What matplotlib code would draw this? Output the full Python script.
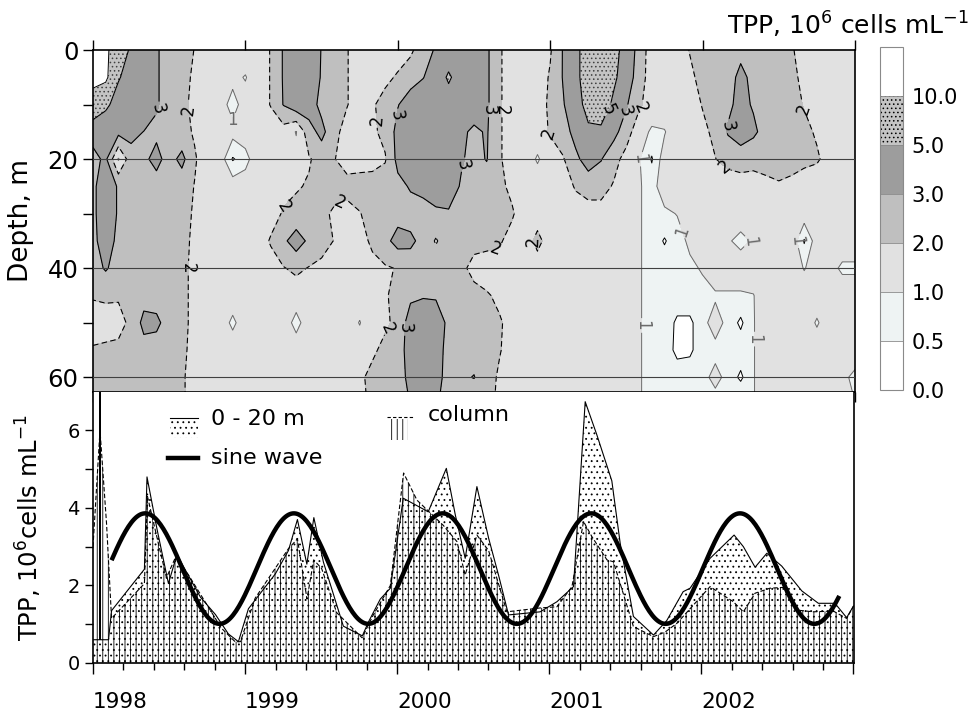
import numpy as np
import matplotlib
matplotlib.use("Agg")
import matplotlib.pyplot as plt
from matplotlib.patches import Rectangle
from matplotlib.lines import Line2D

plt.rcParams['font.family'] = ['DejaVu Sans']
plt.rcParams['mathtext.default'] = 'regular'
plt.rcParams['hatch.linewidth'] = 0.6
plt.rcParams['hatch.color'] = '#404040'

# ---------------- contour data (TPP, 10^6 cells/mL) ----------------
grid_years = np.linspace(1998.0, 2003.0, 61)          # monthly columns
depths = [0, 5, 10, 15, 20, 25, 30, 35, 40, 45, 50, 55, 60, 63]

tpp_00m = [12, 11, 7, 4.5, 3.8, 3.1, 2.6, 2.3, 1.98, 1.5,
           1.5, 1.5, 1.5, 1.5, 2.05, 3.1, 4, 3.8, 2.95, 2.5,
           2.05, 1.5, 1.5, 1.5, 1.6, 1.8, 2.6, 3.1, 3.8, 4,
           4, 3.2, 2.1, 1.6, 1.5, 1.5, 1.9, 3.05, 4, 7,
           7, 6, 3.8, 2.6, 1.5, 1.5, 1.5, 2.05, 2.4, 2.5,
           2.6, 2.8, 2.6, 2.5, 2.5, 2.1, 1.6, 1.5, 1.5, 1.5,
           1.5]
tpp_05m = [12, 11, 5.2, 4, 3.8, 3.1, 2.6, 2.2, 1.9, 1.5,
           1.5, 1.2, 0.95, 1.5, 2.05, 3.1, 4, 3.8, 2.9, 2.4,
           2.05, 1.5, 1.5, 1.8, 2.1, 2.6, 2.95, 3.8, 5.3, 4,
           4, 3.2, 2.1, 1.6, 1.5, 1.5, 2.1, 3.05, 4, 7,
           7, 5.5, 3.6, 2.5, 1.5, 1.5, 1.5, 1.8, 2.3, 2.5,
           2.7, 3.2, 2.8, 2.5, 2.5, 2.2, 1.8, 1.6, 1.5, 1.5,
           1.5]
tpp_10m = [7, 5.5, 4, 4, 3.8, 3.1, 2.6, 2.2, 1.8, 1.5,
           1.3, 0.75, 1.3, 1.5, 2.05, 3.05, 3.7, 3.5, 2.7, 2.4,
           2.05, 1.5, 1.9, 2.3, 2.95, 3.5, 4, 4, 4, 4,
           3.6, 3.2, 2.1, 1.6, 1.5, 1.5, 2.2, 2.9, 3.8, 6,
           6.5, 4.5, 3.1, 2.2, 1.4, 1.5, 1.5, 1.6, 2.05, 2.4,
           2.8, 3.3, 2.9, 2.6, 2.5, 2.3, 1.95, 1.7, 1.5, 1.5,
           1.5]
tpp_15m = [3.4, 3.3, 3.3, 3.3, 2.98, 2.8, 2.6, 2.3, 1.9, 1.5,
           1.5, 1.2, 1.4, 1.5, 1.5, 1.6, 0.95, 2.6, 3.3, 2.3,
           1.6, 1.5, 1.8, 2.3, 3.3, 3.8, 4, 4, 4, 3.2,
           2.8, 3.1, 2.1, 1.6, 1.5, 1.5, 2.1, 2.6, 3.3, 4.5,
           4.5, 3.3, 2.5, 1.3, 0.9, 0.95, 1.5, 1.5, 1.8, 2.2,
           3.1, 3.6, 3.2, 2.6, 2.5, 2.4, 2.2, 1.9, 1.6, 1.5,
           1.5]
tpp_20m = [2.7, 3.2, 0.9, 2.6, 2.8, 3.3, 2.6, 3.3, 2.1, 1.5,
           1.3, 0.45, 0.75, 1.5, 1.5, 1.6, 1.3, 1.9, 2.4, 2.05,
           1.5, 1.5, 1.5, 1.9, 3.3, 3.8, 4, 4, 4, 3.1,
           2.7, 3.05, 2.1, 1.6, 1.5, 0.9, 1.5, 1.9, 2.8, 3.4,
           3.05, 2.4, 1.6, 1.05, 0.45, 1.3, 1.5, 1.5, 1.6, 1.98,
           2.3, 2.4, 2.3, 2.3, 2.4, 2.3, 2.2, 2.1, 1.7, 1.5,
           1.5]
tpp_25m = [2.8, 3.6, 2.9, 2.6, 2.6, 2.6, 2.6, 2.4, 1.97, 1.5,
           1.5, 1.3, 1.4, 1.5, 1.5, 1.7, 1.9, 2.1, 2.5, 2.5,
           2.4, 2.5, 2.6, 2.6, 2.7, 3.1, 3.3, 3.6, 3.5, 2.9,
           2.6, 2.5, 2.2, 1.8, 1.5, 1.5, 1.5, 1.5, 2.1, 2.5,
           2.4, 1.9, 1.4, 1.05, 0.8, 1.3, 1.4, 1.5, 1.5, 1.5,
           1.5, 1.6, 1.6, 1.8, 1.9, 1.8, 1.6, 1.5, 1.5, 1.5,
           1.5]
tpp_30m = [2.8, 3.6, 2.9, 2.6, 2.6, 2.6, 2.6, 2.3, 1.9, 1.5,
           1.5, 1.5, 1.5, 1.5, 1.6, 2.1, 2.3, 2.5, 2.3, 1.8,
           1.6, 1.95, 2.4, 2.5, 2.6, 2.6, 2.6, 2.8, 2.9, 2.7,
           2.5, 2.5, 2.4, 2.1, 1.5, 1.5, 1.5, 1.5, 1.5, 1.5,
           1.6, 1.5, 1.5, 1.05, 0.8, 0.9, 1.02, 1.5, 1.5, 1.5,
           1.5, 1.5, 1.5, 1.5, 1.5, 1.5, 1.3, 1.5, 1.5, 1.5,
           1.5]
tpp_35m = [2.8, 3.4, 2.8, 2.6, 2.6, 2.6, 2.6, 2.3, 1.8, 1.5,
           1.5, 1.5, 1.5, 1.5, 2.1, 2.8, 3.5, 2.8, 2.5, 1.95,
           1.5, 1.6, 2.2, 2.7, 3.4, 3.2, 2.7, 1.9, 2.6, 2.5,
           2.4, 2.3, 2.1, 1.7, 1.5, 2.3, 1.5, 1.5, 1.5, 1.5,
           1.5, 1.5, 1.5, 1.05, 0.8, 0.45, 0.8, 1.1, 1.5, 1.5,
           1.1, 0.75, 1.1, 1.5, 1.5, 1.4, 0.45, 1.3, 1.5, 1.5,
           1.5]
tpp_40m = [2.6, 3.1, 2.6, 2.5, 2.6, 2.6, 2.6, 2.2, 1.8, 1.5,
           1.5, 1.5, 1.5, 1.5, 1.6, 1.95, 2.2, 1.95, 1.7, 1.5,
           1.5, 1.5, 1.7, 1.9, 2.05, 2.5, 2.6, 2.6, 2.5, 2.3,
           1.6, 1.5, 1.7, 1.5, 1.5, 1.5, 1.5, 1.5, 1.5, 1.5,
           1.5, 1.5, 1.5, 1.05, 0.8, 0.8, 0.8, 0.9, 1.05, 1.5,
           1.5, 1.5, 1.5, 1.5, 1.5, 1.5, 0.95, 1.4, 1.3, 0.85,
           0.85]
tpp_45m = [2.1, 2.2, 2.1, 2.4, 2.6, 2.6, 2.6, 2.2, 1.8, 1.5,
           1.5, 1.4, 1.5, 1.5, 1.5, 1.5, 1.5, 1.5, 1.5, 1.5,
           1.5, 1.5, 1.6, 1.9, 2.3, 2.8, 2.9, 2.9, 2.7, 2.5,
           2.4, 2.1, 1.8, 1.5, 1.5, 1.5, 1.5, 1.5, 1.5, 1.5,
           1.5, 1.5, 1.5, 1.05, 0.8, 0.8, 0.8, 0.8, 0.85, 0.9,
           0.9, 0.9, 0.97, 1.5, 1.5, 1.5, 1.5, 1.5, 1.5, 1.5,
           1.5]
tpp_50m = [1.5, 1.5, 1.7, 2.2, 3.3, 3.2, 2.6, 2.2, 1.8, 1.5,
           1.4, 0.85, 1.4, 1.5, 1.5, 1.5, 0.7, 1.5, 1.5, 1.5,
           1.5, 0.95, 1.7, 1.8, 2.3, 3.5, 3.8, 3.5, 2.8, 2.5,
           2.5, 2.4, 2.1, 1.7, 1.5, 1.5, 1.5, 1.5, 1.5, 1.5,
           1.5, 1.5, 1.5, 1.05, 0.8, 0.8, 0.4, 0.4, 0.8, 1.3,
           0.8, 0.4, 0.95, 1.5, 1.5, 1.5, 1.5, 0.9, 1.5, 1.5,
           1.5]
tpp_55m = [2.1, 2.2, 2.2, 2.5, 2.6, 2.6, 2.6, 2.2, 1.7, 1.5,
           1.5, 1.4, 1.5, 1.5, 1.5, 1.5, 1.5, 1.5, 1.5, 1.5,
           1.5, 1.5, 1.8, 2.3, 2.6, 3.4, 3.8, 3.4, 2.7, 2.5,
           2.5, 2.3, 2.05, 1.7, 1.5, 1.5, 1.5, 1.5, 1.5, 1.5,
           1.5, 1.5, 1.5, 1.05, 0.8, 0.8, 0.35, 0.4, 0.8, 0.8,
           0.8, 0.8, 0.95, 1.5, 1.5, 1.5, 1.5, 1.5, 1.5, 1.5,
           1.5]
tpp_60m = [2.5, 2.5, 2.5, 2.5, 2.5, 2.5, 2.5, 2.1, 1.7, 1.5,
           1.5, 1.5, 1.5, 1.5, 1.5, 1.5, 1.5, 1.5, 1.5, 1.5,
           1.5, 1.8, 2.3, 2.5, 2.7, 3.2, 3.6, 3.3, 2.7, 2.8,
           3.05, 2.3, 1.9, 1.6, 1.5, 1.5, 1.5, 1.5, 1.5, 1.5,
           1.5, 1.5, 1.5, 1.05, 0.8, 0.8, 0.8, 0.8, 0.8, 1.2,
           0.8, 0.4, 0.95, 1.5, 1.5, 1.5, 1.5, 1.5, 1.5, 1.2,
           0.8]
tpp_63m = [2.5, 2.5, 2.5, 2.5, 2.5, 2.5, 2.5, 2.1, 1.7, 1.5,
           1.5, 1.5, 1.5, 1.5, 1.5, 1.5, 1.5, 1.5, 1.5, 1.5,
           1.5, 1.8, 2.2, 2.5, 2.6, 3.1, 3.5, 3.2, 2.6, 2.5,
           2.4, 2.2, 1.9, 1.6, 1.5, 1.5, 1.5, 1.5, 1.5, 1.5,
           1.5, 1.5, 1.5, 1.05, 0.8, 0.8, 0.8, 0.8, 0.8, 0.9,
           0.8, 0.8, 0.95, 1.5, 1.5, 1.5, 1.5, 1.5, 1.5, 1.5,
           0.9]

levels = [0, 0.5, 1, 2, 3, 5, 10, 20]
level_labels = ['0.0', '0.5', '1.0', '2.0', '3.0', '5.0', '10.0']

# ---------------- time series (TPP, 10^6 cells/mL) ----------------
surface_t = [1998.000, 1998.044, 1998.046, 1998.049, 1998.102, 1998.122, 1998.338,
             1998.355, 1998.421, 1998.496, 1998.552, 1998.614, 1998.706, 1998.805,
             1998.890, 1998.956, 1999.022, 1999.199, 1999.285, 1999.344, 1999.406,
             1999.452, 1999.515, 1999.646, 1999.771, 1999.810, 1999.889, 1999.955,
             2000.040, 2000.204, 2000.323, 2000.382, 2000.447, 2000.524, 2000.601,
             2000.666, 2000.732, 2000.940, 2001.050, 2001.159, 2001.236, 2001.313,
             2001.411, 2001.466, 2001.553, 2001.685, 2001.773, 2001.880, 2001.926,
             2002.057, 2002.215, 2002.276, 2002.353, 2002.430, 2002.528, 2002.660,
             2002.769, 2002.878, 2002.955, 2003.000]
surface_v = [0.6, 0.6, 7.5, 0.6, 0.6, 1.35, 2.42, 4.8, 3.45, 2.05, 2.8, 2.35, 1.7,
             1.25, 0.75, 0.55, 1.4, 2.3, 2.9, 3.7, 2.55, 3.75, 2.6, 0.95, 0.7, 1.05,
             1.65, 1.93, 4.25, 3.9, 5.02, 3.82, 2.7, 4.55, 3.22, 2.27, 1.24, 1.32,
             1.58, 1.97, 6.74, 5.88, 4.7, 3.09, 1.2, 0.72, 1.1, 1.84, 1.93, 2.7, 3.3,
             3.0, 2.47, 2.83, 2.5, 1.86, 1.54, 1.54, 1.17, 1.47]

column_t = [1998.000, 1998.046, 1998.089, 1998.122, 1998.338, 1998.358, 1998.417,
            1998.483, 1998.545, 1998.628, 1998.844, 1998.934, 1998.969, 1999.066,
            1999.285, 1999.344, 1999.407, 1999.451, 1999.503, 1999.602, 1999.769,
            1999.843, 1999.955, 2000.042, 2000.130, 2000.303, 2000.393, 2000.447,
            2000.524, 2000.601, 2000.721, 2000.940, 2001.050, 2001.149, 2001.225,
            2001.280, 2001.379, 2001.422, 2001.553, 2001.685, 2001.762, 2001.838,
            2002.057, 2002.210, 2002.276, 2002.353, 2002.451, 2002.539, 2002.616,
            2002.736, 2002.867, 2002.955, 2003.000]
column_v = [3.0, 6.0, 3.6, 1.15, 2.05, 4.3, 3.3, 2.2, 2.75, 2.27, 0.9, 0.55, 0.55,
            1.67, 2.95, 3.2, 1.65, 2.66, 2.44, 1.3, 0.65, 1.24, 2.0, 4.9, 4.2, 3.55,
            3.13, 2.27, 3.3, 2.9, 1.32, 1.42, 1.45, 1.97, 3.65, 3.26, 2.66, 2.61,
            0.94, 0.68, 0.8, 1.02, 1.97, 1.58, 1.32, 1.8, 1.93, 1.95, 1.37, 1.32,
            1.34, 1.15, 1.47]

# sine wave parameters
sine_mean = 2.435
sine_amp = 1.425
sine_period = 0.9777
sine_peak = 1998.343
sine_start = 1998.128
sine_end = 2002.900

year_ticks = [1998, 1999, 2000, 2001, 2002, 2003]
year_labels = ['1998', '1999', '2000', '2001', '2002', '']

# ---------------- figure ----------------
W, H = 972, 713
fig = plt.figure(figsize=(W / 100, H / 100), dpi=100)
fig.patch.set_facecolor('white')

def frac(l, t, r, b):
    return [l / W, 1 - b / H, (r - l) / W, (b - t) / H]

ax = fig.add_axes(frac(93, 50, 855, 392))
ax2 = fig.add_axes(frac(93, 392, 853.5, 663))
cax = fig.add_axes(frac(880, 47, 903, 390))

Z = np.array([tpp_00m, tpp_05m, tpp_10m, tpp_15m, tpp_20m, tpp_25m, tpp_30m,
              tpp_35m, tpp_40m, tpp_45m, tpp_50m, tpp_55m, tpp_60m, tpp_63m])

fill_colors = ['#ffffff', '#eef3f3', '#e1e1e1', '#bfbfbf', '#9d9d9d', '#c4c4c4', '#ffffff']
fill_hatches = [None, None, None, None, None, '....', None]
cf = ax.contourf(grid_years, depths, Z, levels=levels, colors=fill_colors,
                 hatches=fill_hatches)

dash = (0, (5, 3))
# unlabelled contour lines
ax.contour(grid_years, depths, Z, levels=[0.5, 10], colors='k',
           linestyles='-', linewidths=0.7)
# labelled contour lines
lab_levels = [1, 2, 3, 5]
cs = ax.contour(grid_years, depths, Z, levels=lab_levels,
                colors=['#6a6a6a', 'k', 'k', 'k'],
                linestyles=['-', dash, '-', '-'],
                linewidths=[0.7, 0.8, 0.8, 0.8])
label_spots = [(1998.455, 11), (1998.627, 11), (1998.903, 13), (1998.619, 40),
               (1999.265, 29), (1999.604, 27), (1999.823, 13), (1999.974, 12),
               (2000.426, 21), (2000.612, 11), (2000.71, 11), (1999.933, 51),
               (2000.007, 51), (2000.645, 37), (2000.894, 35), (2001.006, 15),
               (2001.387, 11), (2001.466, 11), (2001.617, 11), (2001.578, 20),
               (2001.893, 33), (2001.551, 50.5), (2002.399, 53), (2002.175, 14),
               (2002.155, 21), (2002.648, 11), (2002.353, 36.4), (2002.615, 35)]
try:
    ax.clabel(cs, manual=label_spots, fmt='%d', fontsize=12, inline=True,
              inline_spacing=2)
except Exception:
    pass

for d in [20, 40, 60]:
    ax.axhline(d, color='#404040', lw=0.8, zorder=4)

ax.set_xlim(1998, 2003)
ax.set_ylim(62.7, 0)
ax.set_yticks([0, 20, 40, 60])
ax.set_yticks([10, 30, 50], minor=True)
ax.set_xticks(year_ticks)
ax.set_xticks(grid_years, minor=True)
ax.tick_params(axis='x', which='major', top=True, bottom=True, labelbottom=False,
               direction='out', length=7, width=1)
ax.tick_params(axis='x', which='minor', top=False, bottom=True, direction='out',
               length=6, width=0.8)
ax.tick_params(axis='y', which='both', direction='out', length=7, width=1,
               labelsize=17.5)
ax.set_ylabel('Depth, m', fontsize=19)
ax.yaxis.set_label_coords(-0.078, 0.5)
for s in ax.spines.values():
    s.set_linewidth(1.2)

cb = fig.colorbar(cf, cax=cax, ticks=levels[:-1], drawedges=True)
cb.ax.set_yticklabels(level_labels)
cb.ax.tick_params(length=0, labelsize=15, pad=6)
cb.outline.set_edgecolor('#8a8a8a')
cb.outline.set_linewidth(0.8)
cb.dividers.set_color('#8a8a8a')
cb.dividers.set_linewidth(0.6)
fig.text(969 / W, 1 - 25 / H, 'TPP, 10$^6$ cells mL$^{-1}$', ha='right',
         va='center', fontsize=18)

# ---------------- bottom panel ----------------
ax2.fill_between(surface_t, 0, surface_v, facecolor='white', edgecolor='k',
                 linewidth=0, hatch='...', zorder=1)
ax2.fill_between(column_t, 0, column_v, facecolor='none', edgecolor='k',
                 linewidth=0, hatch='|||', zorder=2)
ax2.plot(surface_t, surface_v, color='k', lw=0.8, zorder=3)
ax2.plot(column_t, column_v, color='k', lw=0.8, ls=(0, (4, 2)), zorder=3)
ts = np.linspace(sine_start, sine_end, 500)
ax2.plot(ts, sine_mean + sine_amp * np.cos(2 * np.pi * (ts - sine_peak) / sine_period),
         color='k', lw=3.2, zorder=4)

ax2.set_xlim(1998, 2003)
ax2.set_ylim(0, 6.99)
ax2.set_xticks(year_ticks)
ax2.set_xticklabels(year_labels, ha='left')
ax2.set_xticks(np.arange(1998, 2003.01, 0.2), minor=True)
ax2.set_yticks([0, 2, 4, 6])
ax2.set_yticks([1, 3, 5], minor=True)
ax2.tick_params(axis='x', which='major', direction='out', length=8, width=1,
                labelsize=15.5, pad=13)
ax2.tick_params(axis='x', which='minor', direction='out', length=5, width=1)
ax2.tick_params(axis='y', which='both', direction='out', length=6, width=1,
                labelsize=14)
ax2.spines['top'].set_visible(False)
for s in ax2.spines.values():
    s.set_linewidth(1.2)
ax2.set_ylabel('TPP, 10$^6$cells mL$^{-1}$', fontsize=17.5)
ax2.yaxis.set_label_coords(-0.064, 0.5)

# manual legend (axes fraction)
def fx(px):
    return (px - 92.5) / 761.0

def fy(py):
    return (663 - py) / 271.0

T = ax2.transAxes
ax2.add_patch(Rectangle((fx(170), fy(438)), fx(198) - fx(170), fy(421) - fy(438),
                        transform=T, facecolor='white', edgecolor='k', lw=0,
                        hatch='...', zorder=5))
ax2.add_line(Line2D([fx(170), fx(198)], [fy(418), fy(418)], transform=T,
                    color='k', lw=0.8, zorder=6))
ax2.text(fx(211), fy(419), '0 - 20 m', transform=T, fontsize=16, va='center',
         ha='left', zorder=6)
ax2.add_line(Line2D([fx(168), fx(198)], [fy(458), fy(458)], transform=T,
                    color='k', lw=3.2, zorder=6))
ax2.text(fx(211), fy(458), 'sine wave', transform=T, fontsize=16, va='center',
         ha='left', zorder=6)
ax2.add_patch(Rectangle((fx(390), fy(440)), fx(408) - fx(390), fy(419) - fy(440),
                        transform=T, facecolor='white', edgecolor='k', lw=0,
                        hatch='|||', zorder=5))
ax2.add_line(Line2D([fx(387), fx(413)], [fy(417), fy(417)], transform=T,
                    color='k', lw=0.8, ls=(0, (3, 2)), zorder=6))
ax2.text(fx(427), fy(415), 'column', transform=T, fontsize=16, va='center',
         ha='left', zorder=6)

fig.savefig('out.png', dpi=100, facecolor='white')
